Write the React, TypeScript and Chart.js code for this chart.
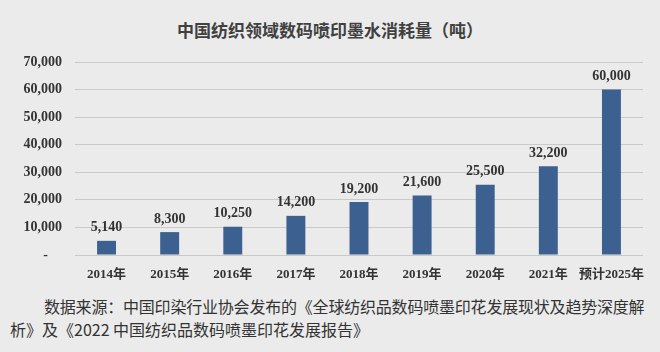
import React, { useEffect, useRef } from "react";
import { Chart, registerables } from "chart.js";

Chart.register(...registerables);

const TITLE = "中国纺织领域数码喷印墨水消耗量（吨）";
const CATEGORIES = ["2014年", "2015年", "2016年", "2017年", "2018年", "2019年", "2020年", "2021年", "预计2025年"];
const VALUES = [5140, 8300, 10250, 14200, 19200, 21600, 25500, 32200, 60000];
const Y_MAX = 70000;
const Y_STEP = 10000;
const SOURCE_LINES = [
  "数据来源：中国印染行业协会发布的《全球纺织品数码喷墨印花发展现状及趋势深度解",
  "析》及《2022 中国纺织品数码喷墨印花发展报告》",
];

const SERIF = "'Liberation Serif', 'Noto Sans CJK SC', serif";
const BAR_COLOR = "#3c6090";

const fmt = (v: number) => v.toLocaleString("en-US");

const labelPlugin = {
  id: "barLabels",
  afterDatasetsDraw(chart: any) {
    const ctx = chart.ctx;
    const meta = chart.getDatasetMeta(0);
    ctx.save();
    ctx.font = `bold 14px ${SERIF}`;
    ctx.fillStyle = "#333333";
    ctx.textAlign = "center";
    ctx.textBaseline = "bottom";
    meta.data.forEach((bar: any, i: number) => {
      ctx.fillText(fmt(VALUES[i]), bar.x, bar.y - 6);
    });
    ctx.restore();
  },
};

export default function App() {
  const ref = useRef<HTMLCanvasElement | null>(null);

  useEffect(() => {
    if (!ref.current) return;
    const chart = new Chart(ref.current, {
      type: "bar",
      data: {
        labels: CATEGORIES,
        datasets: [
          {
            data: VALUES,
            backgroundColor: BAR_COLOR,
            categoryPercentage: 1,
            barPercentage: 0.3,
          },
        ],
      },
      options: {
        animation: false,
        responsive: false,
        maintainAspectRatio: false,
        layout: { padding: { top: 62, right: 17, left: 0, bottom: 0 } },
        plugins: { legend: { display: false }, tooltip: { enabled: false }, title: { display: false } },
        scales: {
          x: {
            grid: { display: false },
            border: { display: false },
            ticks: {
              color: "#333333",
              font: { family: SERIF, size: 13, weight: "bold" },
              padding: 4,
              maxRotation: 0,
              autoSkip: false,
            },
            afterFit: (s: any) => {
              s.height = 25;
            },
          },
          y: {
            min: 0,
            max: Y_MAX,
            grid: { color: "#c9c9c9", lineWidth: 1, drawTicks: false },
            border: { display: false },
            ticks: {
              stepSize: Y_STEP,
              color: "#333333",
              padding: 13,
              font: { family: SERIF, size: 14, weight: "bold" },
              callback: (v: any) => (Number(v) === 0 ? "-    " : fmt(Number(v))),
            },
            afterFit: (s: any) => {
              s.width = 75;
            },
          },
        },
      },
      plugins: [labelPlugin],
    });
    return () => chart.destroy();
  }, []);

  return (
    <div
      style={{
        position: "fixed",
        left: 0,
        top: 0,
        width: 660,
        height: 352,
        background: "#ebebeb",
        overflow: "hidden",
      }}
    >
      <div
        style={{
          position: "absolute",
          top: 18,
          left: 0,
          width: 660,
          textAlign: "center",
          fontFamily: "'Noto Sans CJK SC', sans-serif",
          fontWeight: "bold",
          fontSize: 17,
          lineHeight: "24px",
          color: "#404040",
        }}
      >
        {TITLE}
      </div>
      <canvas ref={ref} width={660} height={280} style={{ position: "absolute", left: 0, top: 0 }} />
      <div
        style={{
          position: "absolute",
          top: 295,
          left: 10,
          width: 660,
          fontFamily: "'Noto Sans CJK SC', serif",
          fontSize: 16,
          lineHeight: "23px",
          color: "#333333",
          whiteSpace: "nowrap",
        }}
      >
        <div style={{ paddingLeft: 34, letterSpacing: -0.2 }}>{SOURCE_LINES[0]}</div>
        <div>{SOURCE_LINES[1]}</div>
      </div>
    </div>
  );
}
